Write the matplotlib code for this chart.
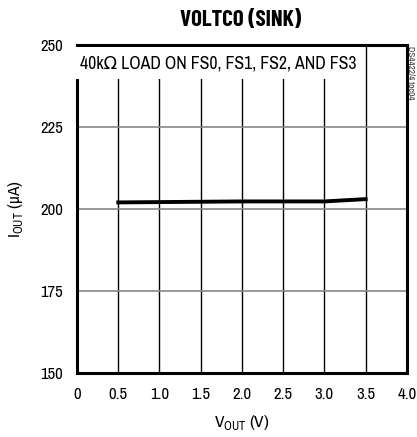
import numpy as np
import matplotlib
matplotlib.use("Agg")
import matplotlib.pyplot as plt

plt.rcParams['font.family'] = ['Archivo Narrow', 'DejaVu Sans']
plt.rcParams['mathtext.fontset'] = 'custom'
plt.rcParams['mathtext.rm'] = 'Archivo Narrow'

# data
vout = [0.5, 1.0, 1.5, 2.0, 2.5, 3.0, 3.5]
iout = [202.0, 202.1, 202.2, 202.3, 202.3, 202.3, 203.0]

xticks = [0, 0.5, 1.0, 1.5, 2.0, 2.5, 3.0, 3.5, 4.0]
xlabels = ['0', '0.5', '1.0', '1.5', '2.0', '2.5', '3.0', '3.5', '4.0']
yticks = [150, 175, 200, 225, 250]

fig = plt.figure(figsize=(4.17, 4.37), dpi=100)
ax = fig.add_axes([0.1847, 0.1465, 0.791, 0.7506])

for x in xticks[1:-1]:
    ax.axvline(x, color='black', lw=1.0, zorder=1)
for y in yticks[1:-1]:
    ax.axhline(y, color='#888888', lw=1.2, zorder=1)

ax.plot(vout, iout, color='black', lw=2.8, zorder=3)

ax.set_xlim(0, 4)
ax.set_ylim(150, 250)
ax.set_xticks(xticks)
ax.set_xticklabels(xlabels)
ax.set_yticks(yticks)
ax.tick_params(length=0, labelsize=12, pad=10)
for s in ax.spines.values():
    s.set_linewidth(2.2)

ax.text(0.04, 244.5, u'40k\u03a9 LOAD ON FS0, FS1, FS2, AND FS3', fontsize=12.8,
        va='center', ha='left', zorder=4,
        bbox=dict(facecolor='white', edgecolor='none', pad=6))

ax.set_xlabel(r'V$_{\mathregular{OUT}}$ (V)', fontsize=12.5, labelpad=8)
ax.set_ylabel(r'I$_{\mathregular{OUT}}$ ($\mathregular{\mu}$A)', fontsize=12.5, labelpad=11)
fig.text(0.578, 0.954, 'VOLTCO (SINK)', fontsize=16.5, fontweight='bold',
         family=['Barlow Condensed', 'DejaVu Sans'], ha='center', va='center')
fig.text(0.985, 0.833, 'DS4422/4 toc04', fontsize=6.5, rotation=270,
         ha='center', va='center', color='#333333')

fig.savefig('out.png', dpi=100)
